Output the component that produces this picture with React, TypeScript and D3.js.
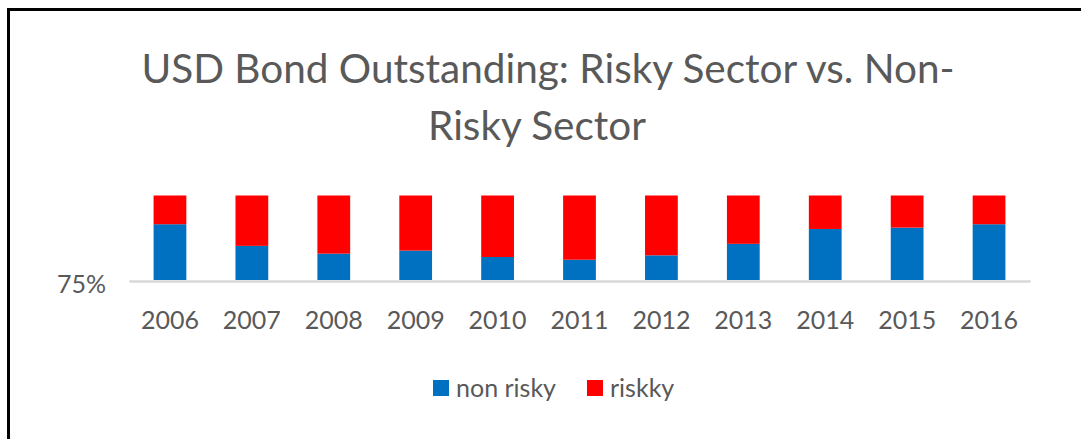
import React, { useEffect, useRef } from 'react';
import * as d3 from 'd3';

const years = ['2006', '2007', '2008', '2009', '2010', '2011', '2012', '2013', '2014', '2015', '2016'];
// share of USD bonds outstanding, in %
const nonRisky = [91.5, 85.1, 82.8, 83.7, 81.8, 81.0, 82.3, 85.7, 90.1, 90.5, 91.5];
const risky = [8.5, 14.9, 17.2, 16.3, 18.2, 19.0, 17.7, 14.3, 9.9, 9.5, 8.5];
const seriesNames = ['non risky', 'riskky'];
const seriesColors = ['#0070C0', '#FF0000'];
const yTicks = [75];

const W = 1081;
const H = 439;
const FONT = 'Lato, "Open Sans", sans-serif';
const GREY = '#595959';

export default function App() {
    const ref = useRef<SVGSVGElement>(null);

    useEffect(() => {
        const svg = d3.select(ref.current);
        svg.selectAll('*').remove();

        // frame (left + top edges only visible)
        svg.append('line').attr('x1', 8.5).attr('x2', 8.5).attr('y1', 8).attr('y2', H)
            .attr('stroke', '#000').attr('stroke-width', 3);
        svg.append('line').attr('x1', 7).attr('x2', W).attr('y1', 9.5).attr('y2', 9.5)
            .attr('stroke', '#000').attr('stroke-width', 3);

        // title
        const title = svg.append('text')
            .attr('text-anchor', 'middle')
            .attr('font-family', FONT)
            .attr('font-size', 40.5)
            .attr('fill', GREY);
        title.append('tspan').attr('x', 548).attr('y', 83).text('USD Bond Outstanding: Risky Sector vs. Non-');
        title.append('tspan').attr('x', 537).attr('y', 140).text('Risky Sector');

        const x = d3.scaleBand<string>().domain(years).range([129, 1030]).paddingInner(0.6).paddingOuter(0.3);
        // axis starts at 75%, bars are clipped to it
        const y = d3.scaleLinear().domain([75, 100]).range([280, 195.5]);

        const rows = years.map((yr, i) => ({ year: yr, nonRisky: nonRisky[i], risky: risky[i] }));
        const stacked = d3.stack<any>().keys(['nonRisky', 'risky'])(rows);

        //Add bars
        stacked.forEach((layer, li) => {
            svg.append('g').selectAll('rect')
                .data(layer)
                .join('rect')
                .attr('x', d => x(d.data.year)!)
                .attr('width', x.bandwidth())
                .attr('y', d => y(Math.min(100, d[1])))
                .attr('height', d => Math.max(0, y(Math.max(75, d[0])) - y(Math.min(100, d[1]))))
                .attr('fill', seriesColors[li]);
        });

        //Add x-Axis
        const xAxis = svg.append('g')
            .attr('transform', 'translate(0,281)')
            .call(d3.axisBottom(x).tickSize(0));
        xAxis.select('.domain').attr('stroke', '#D9D9D9').attr('stroke-width', 2.5);
        xAxis.selectAll('text')
            .attr('font-family', FONT)
            .attr('font-size', 25)
            .attr('fill', GREY)
            .attr('y', 48)
            .attr('dy', 0);

        //Add y-Axis labels
        svg.append('g').selectAll('text')
            .data(yTicks)
            .join('text')
            .attr('x', 106)
            .attr('y', d => y(d) + 13)
            .attr('text-anchor', 'end')
            .attr('font-family', FONT)
            .attr('font-size', 25)
            .attr('fill', GREY)
            .text(d => d + '%');

        //Add legend
        const legendX = [433, 587];
        const lg = svg.append('g');
        seriesNames.forEach((name, i) => {
            lg.append('rect').attr('x', legendX[i]).attr('y', 380).attr('width', 16).attr('height', 16)
                .attr('fill', seriesColors[i]);
            lg.append('text').attr('x', legendX[i] + 23).attr('y', 397)
                .attr('font-family', FONT).attr('font-size', 25).attr('fill', GREY)
                .text(name);
        });
    }, []);

    return (
        <svg ref={ref} width={W} height={H}
            style={{ position: 'absolute', left: 0, top: 0, background: '#fff', display: 'block' }} />
    );
}
